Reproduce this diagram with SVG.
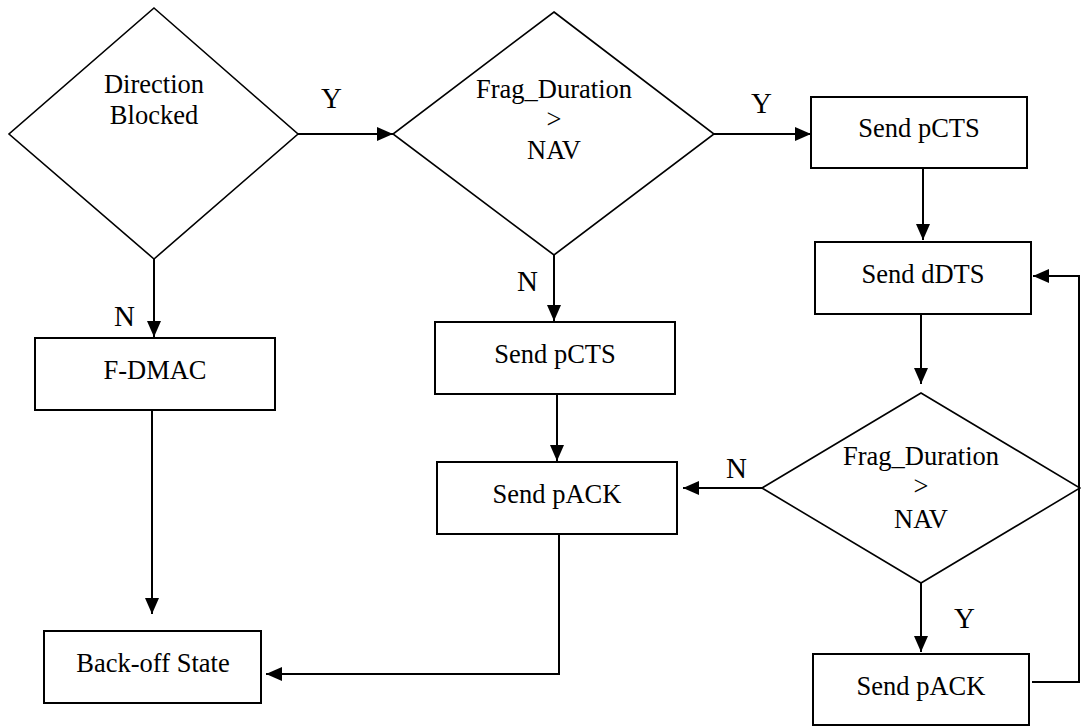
<svg xmlns="http://www.w3.org/2000/svg" width="1081" height="726" viewBox="0 0 1081 726">
  <style>
    .box { fill: #fff; stroke: #000; stroke-width: 2; }
    .dia { fill: #fff; stroke: #000; stroke-width: 1.6; }
    .lbl { font-family: 'Liberation Serif', 'Times New Roman', serif; font-size: 26.5px; fill: #000; text-anchor: middle; }
    .yn { font-family: 'Liberation Serif', 'Times New Roman', serif; font-size: 29px; fill: #000; }
    .edge { fill: none; stroke: #000; stroke-width: 2; }
  </style>
  <defs>
    <marker id="arrow" markerUnits="userSpaceOnUse" markerWidth="16" markerHeight="14" refX="16" refY="7" orient="auto">
      <path d="M0,0 L16,7 L0,14 Z" fill="#000"/>
    </marker>
  </defs>

  <!-- decision: is the direction blocked? -->
  <g id="direction-blocked">
    <polygon class="dia" points="154,8 298,134 154,259 9,134"/>
    <text class="lbl" x="154" y="93">Direction</text>
    <text class="lbl" x="154" y="124">Blocked</text>
  </g>

  <!-- decision: fragment duration vs NAV (upper) -->
  <g id="frag-check-1">
    <polygon class="dia" points="554,12 714,134 554,255 393,134"/>
    <text class="lbl" x="554" y="98">Frag_Duration</text>
    <text class="lbl" x="554" y="128">&gt;</text>
    <text class="lbl" x="554" y="159">NAV</text>
  </g>

  <g id="send-pcts-right">
    <rect class="box" x="811" y="97" width="216" height="71"/>
    <text class="lbl" x="919" y="137">Send pCTS</text>
  </g>

  <g id="send-ddts">
    <rect class="box" x="815" y="242" width="216" height="72"/>
    <text class="lbl" x="923" y="283">Send dDTS</text>
  </g>

  <!-- decision: fragment duration vs NAV (lower) -->
  <g id="frag-check-2">
    <polygon class="dia" points="921,393 1080,488 921,583 762,488"/>
    <text class="lbl" x="921" y="465">Frag_Duration</text>
    <text class="lbl" x="921" y="495">&gt;</text>
    <text class="lbl" x="921" y="528">NAV</text>
  </g>

  <g id="send-pack-right">
    <rect class="box" x="813" y="654" width="216" height="71"/>
    <text class="lbl" x="921" y="695">Send pACK</text>
  </g>

  <g id="f-dmac">
    <rect class="box" x="35" y="338" width="240" height="72"/>
    <text class="lbl" x="155" y="379">F-DMAC</text>
  </g>

  <g id="send-pcts-mid">
    <rect class="box" x="435" y="322" width="240" height="72"/>
    <text class="lbl" x="555" y="363">Send pCTS</text>
  </g>

  <g id="send-pack-mid">
    <rect class="box" x="437" y="462" width="240" height="72"/>
    <text class="lbl" x="557" y="503">Send pACK</text>
  </g>

  <g id="back-off">
    <rect class="box" x="44" y="631" width="217" height="72"/>
    <text class="lbl" x="153" y="672">Back-off State</text>
  </g>

  <!-- connectors and branch labels -->
  <g id="connectors">
    <line class="edge" x1="298" y1="134" x2="393" y2="134" marker-end="url(#arrow)"/>
    <line class="edge" x1="154" y1="259" x2="154" y2="337" marker-end="url(#arrow)"/>
    <line class="edge" x1="152" y1="410" x2="152" y2="614" marker-end="url(#arrow)"/>
    <line class="edge" x1="714" y1="134" x2="811" y2="134" marker-end="url(#arrow)"/>
    <line class="edge" x1="554" y1="255" x2="554" y2="321" marker-end="url(#arrow)"/>
    <line class="edge" x1="557" y1="394" x2="557" y2="461" marker-end="url(#arrow)"/>
    <polyline class="edge" points="559,534 559,674 266,674" marker-end="url(#arrow)"/>
    <line class="edge" x1="923" y1="168" x2="923" y2="240" marker-end="url(#arrow)"/>
    <line class="edge" x1="921" y1="314" x2="921" y2="384" marker-end="url(#arrow)"/>
    <line class="edge" x1="762" y1="488" x2="683" y2="488" marker-end="url(#arrow)"/>
    <line class="edge" x1="921" y1="583" x2="921" y2="652" marker-end="url(#arrow)"/>
    <polyline class="edge" points="1032,682 1079,682 1079,276 1033,276" marker-end="url(#arrow)"/>

    <text class="yn" x="321" y="108">Y</text>
    <text class="yn" x="751" y="113">Y</text>
    <text class="yn" x="114" y="326">N</text>
    <text class="yn" x="517" y="291">N</text>
    <text class="yn" x="726" y="478">N</text>
    <text class="yn" x="954" y="628">Y</text>
  </g>
</svg>
